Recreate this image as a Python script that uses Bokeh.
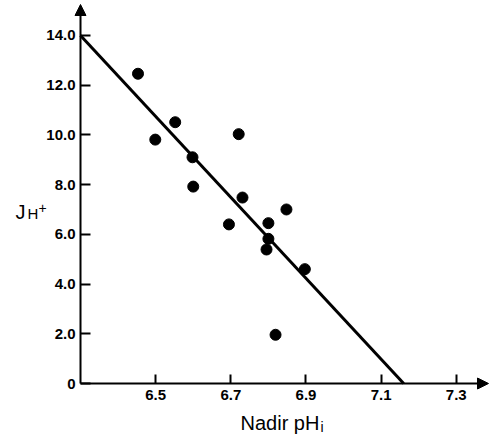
from bokeh.plotting import figure
from bokeh.models import FixedTicker, Range1d, Arrow, NormalHead, Label, LinearAxis
from bokeh.embed import file_html
from bokeh.resources import INLINE

# Data
nadir_ph = [6.453, 6.552, 6.499, 6.721, 6.598, 6.600, 6.731, 6.848, 6.695, 6.800, 6.800, 6.795, 6.897, 6.819]
j_h = [12.46, 10.51, 9.81, 10.03, 9.10, 7.92, 7.48, 7.00, 6.40, 6.45, 5.82, 5.39, 4.60, 1.96]
fit_x = [6.3, 7.16]
fit_y = [14.0, 0.0]
x_ticks = [6.5, 6.7, 6.9, 7.1, 7.3]
x_tick_labels = ["6.5", "6.7", "6.9", "7.1", "7.3"]
y_ticks = [0, 2, 4, 6, 8, 10, 12, 14]
y_tick_labels = ["0", "2.0", "4.0", "6.0", "8.0", "10.0", "12.0", "14.0"]
x_origin, y_origin = 6.3, 0.0

W, H = 490, 438
SX = 375.8          # px per pH unit
SY = 24.86          # px per J unit
OX, OY = 80, 383    # pixel position of the axes' origin
XS = x_origin - OX / SX
XE = XS + W / SX
YS = y_origin - (H - OY) / SY
YE = y_origin + OY / SY

FONT = "Liberation Sans"

p = figure(width=W, height=H, output_backend="svg", toolbar_location=None,
           title=None, x_range=Range1d(XS, XE), y_range=Range1d(YS, YE),
           x_axis_location=None, y_axis_location=None,
           min_border_left=0, min_border_right=0, min_border_top=0,
           min_border_bottom=0)
p.outline_line_color = None
p.grid.visible = False

xax = LinearAxis(fixed_location=y_origin)
yax = LinearAxis(fixed_location=x_origin)
for ax in (xax, yax):
    ax.axis_line_color = None
    ax.major_tick_line_width = 2
    ax.major_tick_line_color = "black"
    ax.major_tick_out = 0
    ax.minor_tick_line_color = None
    ax.major_label_text_font = FONT
    ax.major_label_text_font_style = "bold"
    ax.major_label_text_font_size = "15px"
    ax.major_label_text_color = "black"

xax.ticker = FixedTicker(ticks=x_ticks)
xax.major_label_overrides = dict(zip(x_ticks, x_tick_labels))
xax.major_tick_in = 9
xax.major_label_standoff = 6

yax.ticker = FixedTicker(ticks=y_ticks)
yax.major_label_overrides = dict(zip(y_ticks, y_tick_labels))
yax.major_tick_in = 10
yax.major_label_standoff = 5

p.add_layout(xax, "below")
p.add_layout(yax, "left")

# axis lines with arrowheads
y_tip = y_origin + (OY - 4) / SY
x_tip = x_origin + (488 - OX) / SX
p.add_layout(Arrow(x_start=x_origin, y_start=y_origin, x_end=x_origin, y_end=y_tip, line_width=2,
                   end=NormalHead(size=11, fill_color="black", line_color="black", line_width=1)))
p.add_layout(Arrow(x_start=x_origin, y_start=y_origin, x_end=x_tip, y_end=y_origin, line_width=2,
                   end=NormalHead(size=11, fill_color="black", line_color="black", line_width=1)))

p.line(fit_x, fit_y, line_width=3, line_color="black")
p.scatter(nadir_ph, j_h, size=11, fill_color="black", line_color="black")


def lab(text, px, py, size):
    p.add_layout(Label(x=XS + px / SX, y=YE - py / SY, text=text,
                       text_font=FONT, text_font_size=size, text_color="black",
                       text_baseline="alphabetic", text_align="left"))


lab("J", 15, 211, "20px")
lab("H", 27, 213, "15px")
lab("+", 38, 207, "14px")
lab("Nadir pH", 240, 422, "20px")
lab("i", 320, 426, "14px")

open("out.html", "w").write(file_html(p, INLINE))
